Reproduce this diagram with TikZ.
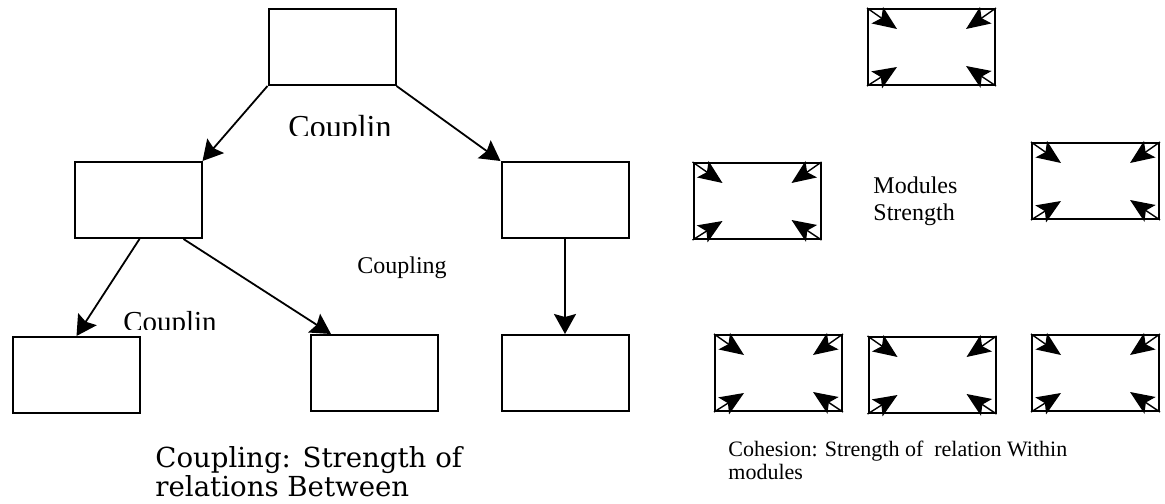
\documentclass[tikz,border=0pt]{standalone}
\usepackage{fontspec}
\setmainfont{Liberation Serif}
\newfontfamily\capfont{DejaVu Serif}
\usetikzlibrary{arrows.meta}
\tikzset{
  modbox/.style={draw,line width=1pt,minimum width=63.5pt,minimum height=38pt,inner sep=0pt},
  link/.style={line width=0.9pt,-{Stealth[length=10pt,width=11pt,inset=1.5pt]}},
  inarrow/.style={line width=0.7pt,-{Stealth[length=12pt,width=10pt,inset=2.5pt]}},
  lbl/.style={inner sep=0pt,anchor=base}
}
\begin{document}
\begin{tikzpicture}[x=0.5pt,y=-0.5pt]
\useasboundingbox (0,0) rectangle (1165,503);
% coupling
\node[modbox] (top) at (332,47) {};
\node[modbox] (ml) at (138,200) {};
\node[modbox] (mr) at (565,200) {};
\node[modbox] (bl) at (76,375) {};
\node[modbox] (bm) at (374.5,373) {};
\node[modbox] (br) at (565,373) {};
\draw[link] (top.south west) -- (ml.north east);
\draw[link] (top.south east) -- (mr.north west);
\draw[link] ([xshift=33pt]ml.south west) -- ([xshift=32.5pt]bl.north west);
\draw[link] ([xshift=55pt]ml.south west) -- ([xshift=10.5pt]bm.north west);
\draw[link] (mr.south) -- (br.north);
\begin{scope}
  \clip (250,100) rectangle (430,135);
  \node[lbl,font=\fontsize{16}{18}\selectfont] (cpa) at (340,137) {Couplin};
\end{scope}
\node[lbl,font=\fontsize{12}{14}\selectfont] (cpb) at (402,273) {Coupling};
\begin{scope}
  \clip (100,290) rectangle (250,329);
  \node[lbl,font=\fontsize{14.5}{16}\selectfont] (cpc) at (170,331) {Couplin};
\end{scope}
\node[inner sep=0pt,anchor=north west,align=left,font=\capfont\fontsize{13.8}{12.5}\selectfont]
  (capa) at (155,446) {Coupling: Strength of\\relations Between};
% cohesion
\node[modbox] (rt) at (931.5,47) {};
\node[modbox] (rl) at (757,201) {};
\node[modbox] (rr) at (1095.5,181) {};
\node[modbox] (ca) at (778.5,373) {};
\node[modbox] (cb) at (932,375) {};
\node[modbox] (cc) at (1095.5,373) {};
\foreach \b in {rt,rl,rr,ca,cb,cc} {
  \draw[inarrow] (\b.north west) -- ++(30,21);
  \draw[inarrow] (\b.north east) -- ++(-30,21);
  \draw[inarrow] (\b.south west) -- ++(30,-19);
  \draw[inarrow] (\b.south east) -- ++(-30,-20);
}
\node[inner sep=0pt,anchor=north west,align=left,font=\fontsize{12}{13.5}\selectfont]
  (mods) at (873,176) {Modules\\Strength};
\node[inner sep=0pt,anchor=north west,align=left,font=\fontsize{11}{11.5}\selectfont]
  (capb) at (728,441) {Cohesion: Strength of~ relation Within\\modules};
\end{tikzpicture}
\end{document}
